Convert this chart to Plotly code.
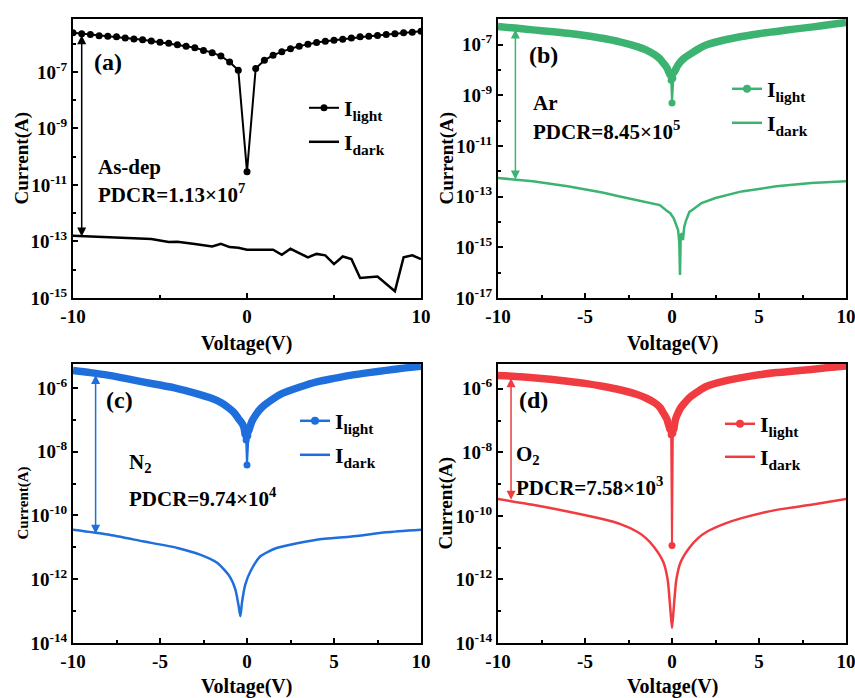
import plotly.graph_objects as go

# ---------------- data (log10 of current in A) ----------------
# (a) As-dep
a_light_v = [-10, -9.5, -9, -8.5, -8, -7.5, -7, -6.5, -6, -5.5, -5, -4.5, -4, -3.5, -3, -2.5, -2, -1.5, -1, -0.5,
             0, 0.5, 1, 1.5, 2, 2.5, 3, 3.5, 4, 4.5, 5, 5.5, 6, 6.5, 7, 7.5, 8, 8.5, 9, 9.5, 10]
a_light_log = [-5.62, -5.65, -5.68, -5.72, -5.74, -5.76, -5.80, -5.84, -5.86, -5.91, -5.95, -5.99, -6.04, -6.09,
               -6.15, -6.24, -6.32, -6.44, -6.65, -6.94, -10.53, -6.88, -6.59, -6.41, -6.29, -6.18, -6.09, -6.02,
               -5.96, -5.92, -5.88, -5.85, -5.80, -5.76, -5.74, -5.71, -5.68, -5.65, -5.62, -5.60, -5.56]
a_dark_v = [-10, -9, -7.5, -6, -5.5, -4.5, -4, -3, -2, -1.5, -1, -0.5, 0, 1, 1.5, 2, 2.5, 3, 3.5, 4,
            4.5, 5, 5.5, 6, 6.5, 7.5, 8.5, 9, 9.5, 10]
a_dark_log = [-12.80, -12.82, -12.86, -12.89, -12.91, -13.02, -13.01, -13.09, -13.18, -13.08,
              -13.20, -13.22, -13.29, -13.29, -13.29, -13.47, -13.26, -13.41, -13.56, -13.44,
              -13.49, -13.80, -13.53, -13.62, -14.29, -14.24, -14.76, -13.56, -13.49, -13.62]

# (b) Ar
b_light_v = [-10, -9, -8, -7, -6, -5, -4, -3, -2, -1.5, -1, -0.7, -0.5, -0.3, -0.2, -0.1, -0.05, 0,
             0.05, 0.1, 0.2, 0.3, 0.5, 0.7, 1, 1.5, 2, 3, 4, 5, 6, 7, 8, 9, 10]
b_light_log = [-6.28, -6.34, -6.41, -6.47, -6.54, -6.63, -6.74, -6.88, -7.07, -7.20, -7.39, -7.55, -7.72, -7.90,
               -8.05, -8.20, -8.40, -9.30, -8.32, -8.10, -7.99, -7.85, -7.66, -7.53, -7.39, -7.17, -7.00, -6.81,
               -6.67, -6.56, -6.47, -6.38, -6.30, -6.21, -6.12]
b_dark_v = [-10, -8, -6, -4, -3, -2, -1, -0.7, -0.3, -0.1, 0.1, 0.25, 0.35, 0.42, 0.46, 0.50, 0.58, 0.63,
            0.70, 0.8, 0.92, 1.0, 1.2, 1.7, 2.5, 4, 6, 8, 10]
b_dark_log = [-12.26, -12.39, -12.59, -12.83, -12.99, -13.15, -13.30, -13.33, -13.55, -13.65, -13.85, -14.15,
              -14.32, -14.80, -16.09, -14.50, -14.45, -14.71, -14.20, -13.95, -13.73, -13.60, -13.50, -13.25,
              -13.05, -12.79, -12.59, -12.46, -12.39]

# (c) N2
c_light_v = [-10, -9, -8, -7, -6, -5, -4, -3, -2, -1.5, -1, -0.7, -0.5, -0.3, -0.2, -0.1, -0.05, 0,
             0.05, 0.1, 0.2, 0.3, 0.5, 0.7, 1, 1.5, 2, 3, 4, 5, 6, 7, 8, 9, 10]
c_light_log = [-5.45, -5.52, -5.60, -5.70, -5.81, -5.91, -6.02, -6.16, -6.33, -6.46, -6.65, -6.80, -6.96, -7.10,
               -7.20, -7.48, -7.63, -8.42, -7.50, -7.35, -7.17, -7.03, -6.85, -6.70, -6.54, -6.34, -6.18, -5.98,
               -5.81, -5.70, -5.60, -5.52, -5.45, -5.38, -5.32]
c_dark_v = [-10, -8, -6, -4, -2.7, -1.7, -1.0, -0.67, -0.48, -0.38, -0.29, -0.1, 0.2, 0.77, 1.7, 4, 6, 8, 10]
c_dark_log = [-10.45, -10.60, -10.81, -11.02, -11.23, -11.49, -11.91, -12.32, -12.84, -13.16, -12.74, -12.17,
              -11.75, -11.28, -11.02, -10.76, -10.66, -10.53, -10.45]

# (d) O2
d_light_v = [-10, -9, -8, -7, -6, -5, -4, -3, -2, -1.5, -1, -0.7, -0.5, -0.3, -0.2, -0.1, -0.05, 0,
             0.05, 0.1, 0.2, 0.3, 0.5, 0.7, 1, 1.5, 2, 3, 4, 5, 6, 7, 8, 9, 10]
d_light_log = [-5.58, -5.61, -5.65, -5.70, -5.76, -5.83, -5.92, -6.03, -6.18, -6.29, -6.44, -6.58, -6.76, -6.95,
               -7.13, -7.30, -7.45, -10.93, -7.40, -7.28, -6.97, -6.82, -6.60, -6.46, -6.28, -6.08, -5.92, -5.76,
               -5.65, -5.56, -5.49, -5.44, -5.39, -5.33, -5.28]
d_dark_v = [-10, -8, -6, -4, -3, -2, -1.5, -1, -0.5, -0.25, -0.1, 0, 0.1, 0.25, 0.5, 1, 1.5, 2, 3, 4, 6, 8, 10]
d_dark_log = [-9.47, -9.65, -9.86, -10.10, -10.25, -10.50, -10.70, -11.00, -11.45, -12.00, -12.90, -13.53,
              -12.90, -12.00, -11.45, -11.00, -10.70, -10.50, -10.25, -10.07, -9.81, -9.65, -9.47]

panel_labels = ["(a)", "(b)", "(c)", "(d)"]
sample_names = ["As-dep", "Ar", "N<sub>2</sub>", "O<sub>2</sub>"]
pdcr_texts = ["PDCR=1.13×10<sup>7</sup>", "PDCR=8.45×10<sup>5</sup>",
              "PDCR=9.74×10<sup>4</sup>", "PDCR=7.58×10<sup>3</sup>"]
colors = ["black", "#3cb371", "#1e6fdc", "#f03c41"]
y_ranges = [[-15, -5.13], [-17, -5.98], [-14, -5.25], [-14, -5.22]]
y_major = [[-15, -13, -11, -9, -7], [-17, -15, -13, -11, -9, -7],
           [-14, -12, -10, -8, -6], [-14, -12, -10, -8, -6]]
arrow_v = [-9.5, -9.0, -8.7, -9.25]
arrow_top = [-5.65, -6.34, -5.55, -5.62]
arrow_bot = [-12.82, -12.32, -10.57, -9.49]

lights = [(a_light_v, a_light_log), (b_light_v, b_light_log), (c_light_v, c_light_log), (d_light_v, d_light_log)]
darks = [(a_dark_v, a_dark_log), (b_dark_v, b_dark_log), (c_dark_v, c_dark_log), (d_dark_v, d_dark_log)]
dark_shape = ["linear", "linear", "spline", "spline"]

W, H = 855, 698
# plot-area pixel boxes (left, right, top, bottom)
boxes = [(73, 421, 19, 298), (498, 846, 19, 298), (73, 421, 364, 643), (498, 846, 364, 643)]

FONT = "Liberation Serif"
fig = go.Figure()
annotations = []


def legname(k):
    return "legend" if k == 1 else "legend%d" % k


for i in range(4):
    n = "" if i == 0 else str(i + 1)
    xa, ya = "x" + n, "y" + n
    col = colors[i]
    lv, ll = lights[i]
    dv, dl = darks[i]
    leg_l = legname(2 * i + 1)
    leg_d = legname(2 * i + 2)
    if i == 0:
        fig.add_trace(go.Scatter(x=lv, y=[10 ** v for v in ll], mode="lines+markers", xaxis=xa, yaxis=ya,
                                 line=dict(color=col, width=2), marker=dict(size=7, color=col),
                                 name="<b>I<sub>light</sub></b>", legend=leg_l))
    else:
        # dense-measurement band on both branches (thick), thin drop with dots near 0 V
        for side in (-1, 1):
            pts = [(v, y) for v, y in zip(lv, ll) if side * v >= 0.1]
            fig.add_trace(go.Scatter(x=[p[0] for p in pts], y=[10 ** p[1] for p in pts], mode="lines",
                                     xaxis=xa, yaxis=ya,
                                     line=dict(color=col, width=7.5, shape="spline", smoothing=0.8),
                                     showlegend=False))
        pts = [(v, y) for v, y in zip(lv, ll) if abs(v) <= 0.1]
        fig.add_trace(go.Scatter(x=[p[0] for p in pts], y=[10 ** p[1] for p in pts], mode="lines+markers",
                                 xaxis=xa, yaxis=ya, line=dict(color=col, width=2),
                                 marker=dict(size=7, color=col), showlegend=False))
        fig.add_trace(go.Scatter(x=[None], y=[None], mode="lines+markers", xaxis=xa, yaxis=ya,
                                 line=dict(color=col, width=2.5), marker=dict(size=8, color=col),
                                 name="<b>I<sub>light</sub></b>", legend=leg_l))
    fig.add_trace(go.Scatter(x=dv, y=[10 ** v for v in dl], mode="lines", xaxis=xa, yaxis=ya,
                             line=dict(color=col, width=2.5, shape=dark_shape[i], smoothing=0.6),
                             name="<b>I<sub>dark</sub></b>", legend=leg_d))

    l, r, t, b = boxes[i]
    xdom = [l / W, r / W]
    ydom = [1 - b / H, 1 - t / H]
    if i == 0:
        xt = [-10, 0, 10]
        xminor = [-5, 5]
    else:
        xt = [-10, -5, 0, 5, 10]
        xminor = [-7.5, -2.5, 2.5, 7.5]
    majors = y_major[i]
    lo, hi = y_ranges[i]
    minors = [10 ** e for e in range(int(lo), int(hi) + 1) if e not in majors]
    fig.update_layout(**{
        "xaxis" + n: dict(domain=xdom, anchor=ya, range=[-10, 10], showline=True, linecolor="black",
                          linewidth=2, mirror=True, ticks="inside", ticklen=5, tickwidth=1.5,
                          tickcolor="black", tickvals=xt, ticktext=[str(v) for v in xt],
                          tickfont=dict(family=FONT, size=19, color="black", weight="bold"),
                          ticklabeloverflow="allow",
                          minor=dict(tickvals=xminor, ticks="inside", ticklen=3, tickwidth=1.5,
                                     tickcolor="black"),
                          showgrid=False, zeroline=False, automargin=False),
        "yaxis" + n: dict(domain=ydom, anchor=xa, type="log", range=[lo, hi], showline=True,
                          linecolor="black", linewidth=2, mirror=True, ticks="inside", ticklen=5,
                          tickwidth=1.5, tickcolor="black", tickvals=[10 ** e for e in majors],
                          ticktext=["10<sup>%d</sup>" % e for e in majors],
                          tickfont=dict(family=FONT, size=19, color="black", weight="bold"),
                          minor=dict(tickvals=minors, ticks="inside", ticklen=3, tickwidth=1.5,
                                     tickcolor="black"),
                          showgrid=False, zeroline=False, automargin=False),
    })

    # legends: one per entry for exact placement
    leg_x = [304, 727, 295, 720][i]
    ly_light = [108, 89, 421, 424][i]
    ly_dark = [142, 123, 455, 457][i]
    for lg, yy in ((leg_l, ly_light), (leg_d, ly_dark)):
        fig.update_layout(**{lg: dict(x=leg_x / W, y=1 - yy / H, xanchor="left", yanchor="middle",
                                      bgcolor="rgba(0,0,0,0)", borderwidth=0,
                                      font=dict(family=FONT, size=22, color="black"))})

    # panel label, sample name, PDCR text
    lab_pos = [(92, 62), (527, 55), (104, 400), (517, 400)][i]
    name_pos = [(96, 167), (531, 103), (127, 463), (514, 455)][i]
    pdcr_pos = [(96, 193), (531, 131), (127, 497), (514, 486)][i]
    annotations.append(dict(text="<b>%s</b>" % panel_labels[i], x=lab_pos[0] / W, y=1 - lab_pos[1] / H,
                            xref="paper", yref="paper", xanchor="left", yanchor="middle", showarrow=False,
                            font=dict(family=FONT, size=24, color="black")))
    annotations.append(dict(text="<b>%s</b>" % sample_names[i], x=name_pos[0] / W, y=1 - name_pos[1] / H,
                            xref="paper", yref="paper", xanchor="left", yanchor="middle", showarrow=False,
                            font=dict(family=FONT, size=21, color="black")))
    annotations.append(dict(text="<b>%s</b>" % pdcr_texts[i], x=pdcr_pos[0] / W, y=1 - pdcr_pos[1] / H,
                            xref="paper", yref="paper", xanchor="left", yanchor="middle", showarrow=False,
                            font=dict(family=FONT, size=21, color="black")))
    # double-headed arrow
    annotations.append(dict(x=arrow_v[i], y=arrow_bot[i], ax=arrow_v[i], ay=arrow_top[i],
                            xref=xa, yref=ya, axref=xa, ayref=ya, text="", showarrow=True,
                            arrowhead=2, startarrowhead=2, arrowside="end+start", arrowsize=1.2,
                            arrowwidth=1.5, arrowcolor=col, startarrowsize=1.2))
    # axis titles
    annotations.append(dict(text="<b>Voltage(V)</b>", x=(l + r) / 2 / W, y=1 - [343, 343, 686, 686][i] / H,
                            xref="paper", yref="paper", xanchor="center", yanchor="middle", showarrow=False,
                            font=dict(family=FONT, size=20, color="black")))
    annotations.append(dict(text="<b>Current(A)</b>", x=[21, 446, 23, 446][i] / W, y=1 - (t + b) / 2 / H,
                            xref="paper", yref="paper", xanchor="center", yanchor="middle", showarrow=False,
                            textangle=-90,
                            font=dict(family=FONT, size=[19, 19, 15, 19][i], color="black")))

fig.update_layout(width=W, height=H, autosize=False, margin=dict(l=0, r=0, t=0, b=0),
                  paper_bgcolor="white", plot_bgcolor="white", annotations=annotations,
                  font=dict(family=FONT, color="black"))

fig.write_html("out.html", config={"displayModeBar": False},
               post_script="document.body.style.margin='0';document.body.style.overflow='hidden';")
